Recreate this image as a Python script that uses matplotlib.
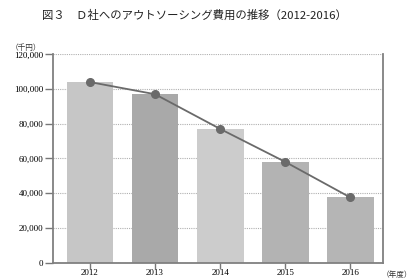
import matplotlib.pyplot as plt
from matplotlib.ticker import FuncFormatter

plt.rcParams['font.family'] = ['Noto Sans CJK JP', 'DejaVu Sans']

years = ["2012", "2013", "2014", "2015", "2016"]
costs = [104000, 97000, 77000, 58000, 37500]
bar_colors = ["#c6c6c6", "#a9a9a9", "#cccccc", "#b3b3b3", "#b5b5b5"]
y_ticks = [0, 20000, 40000, 60000, 80000, 100000, 120000]

fig = plt.figure(figsize=(4.13, 2.8), dpi=100)
ax = fig.add_axes([0.128, 0.0625, 0.799, 0.7435])

x = range(len(years))
ax.bar(x, costs, width=0.72, color=bar_colors, zorder=2)
ax.plot(x, costs, color="#6a6a6a", linewidth=1.3, marker="o",
        markersize=5.5, zorder=3)

ax.set_xlim(-0.57, 4.5)
ax.set_ylim(0, 120000)
ax.set_yticks(y_ticks)
ax.yaxis.set_major_formatter(FuncFormatter(lambda v, p: f"{int(v):,}"))
ax.set_xticks(list(x))
ax.set_xticklabels(years)

for lab in ax.get_xticklabels() + ax.get_yticklabels():
    lab.set_fontfamily("Liberation Serif")
    lab.set_fontsize(6.5)

ax.tick_params(axis="y", length=6, width=1, color="#777777", pad=1)
ax.tick_params(axis="x", length=4, width=1, color="#777777", pad=1)
ax.grid(axis="y", linestyle=(0, (1, 1)), color="#b0b0b0",
        linewidth=0.8, zorder=1)
ax.set_axisbelow(True)

ax.spines["top"].set_visible(False)
for side in ["left", "right", "bottom"]:
    ax.spines[side].set_color("#808080")
    ax.spines[side].set_linewidth(1.3)

fig.text(0.47, 0.945, "図３　Ｄ社へのアウトソーシング費用の推移（2012-2016）",
         ha="center", va="center", fontsize=8.2, color="#222222")
fig.text(0.025, 0.83, "（千円）", ha="left", va="center", fontsize=5.5,
         color="#333333")
fig.text(0.925, 0.018, "（年度）", ha="left", va="center", fontsize=5.5,
         color="#333333")

fig.savefig("out.png", dpi=100)
